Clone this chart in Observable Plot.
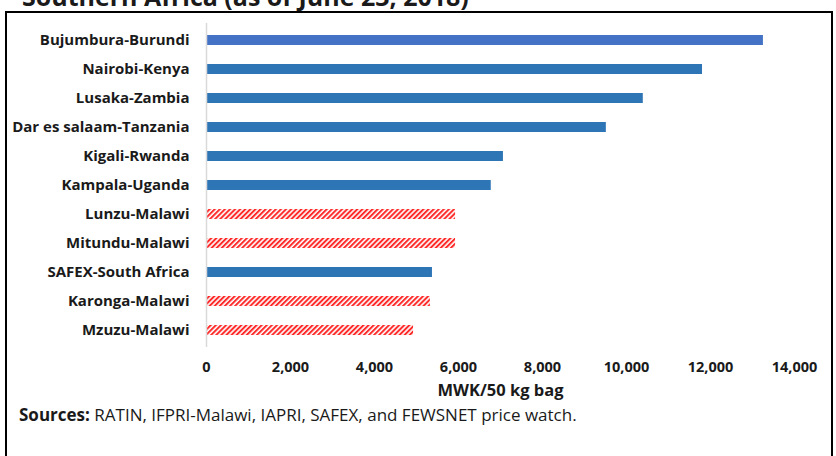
<!DOCTYPE html>
<html><head><meta charset="utf-8">
<script src="https://cdn.jsdelivr.net/npm/d3@7"></script>
<script src="https://cdn.jsdelivr.net/npm/@observablehq/plot@0.6"></script>
<style>
body{margin:0;background:#fff;width:836px;height:456px;overflow:hidden;position:relative;font-family:"Open Sans",Lato,sans-serif;color:#1a1a1a;}
#title{position:absolute;left:22px;top:-16px;font-size:25px;font-weight:bold;white-space:nowrap;line-height:1;}
#frame{position:absolute;left:5px;top:11px;width:828px;height:470px;border:2px solid #000;box-sizing:border-box;}
#chart{position:absolute;left:0;top:0;}
#caption{position:absolute;left:19px;top:405px;font-size:17px;line-height:20px;white-space:nowrap;}
</style></head>
<body>
<div id="title">Southern Africa (as of June 23, 2018)</div>
<div id="frame"></div>
<div id="chart"></div>
<div id="caption"><b>Sources:</b> RATIN, IFPRI-Malawi, IAPRI, SAFEX, and FEWSNET price watch.</div>
<script>
const markets = ["Bujumbura-Burundi","Nairobi-Kenya","Lusaka-Zambia","Dar es salaam-Tanzania","Kigali-Rwanda","Kampala-Uganda","Lunzu-Malawi","Mitundu-Malawi","SAFEX-South Africa","Karonga-Malawi","Mzuzu-Malawi"];
const prices = [13260, 11810, 10400, 9520, 7070, 6780, 5930, 5930, 5380, 5330, 4930];
const origin = ["Regional","Regional","Regional","Regional","Regional","Regional","Malawi","Malawi","Regional","Malawi","Malawi"];
const xTicks = [0, 2000, 4000, 6000, 8000, 10000, 12000, 14000];
const xLabel = "MWK/50 kg bag";

const data = markets.map((m, i) => ({market: m, price: prices[i], origin: origin[i]}));

const chart = Plot.plot({
  width: 836, height: 400,
  marginLeft: 206, marginRight: 42, marginTop: 23, marginBottom: 53,
  style: {fontFamily: "'Open Sans', Lato, sans-serif", fontSize: "14.5px", fontWeight: "bold", color: "#1a1a1a", background: "transparent"},
  x: {domain: [0, 14000], ticks: xTicks, tickFormat: d3.format(","), tickSize: 0, tickPadding: 14,
      label: xLabel, labelAnchor: "center", labelArrow: "none", labelOffset: 48},
  y: {domain: markets, paddingInner: 0.655, paddingOuter: 0.4, tickSize: 0, tickPadding: 17, label: null},
  color: {type: "identity"},
  marks: [
    Plot.barX(data, {x: "price", y: "market",
      fill: d => d.origin === "Malawi" ? "url(#hatch)" : (d.market === markets[0] ? "#4472C4" : "#2E75B6")}),
    Plot.ruleX([0], {stroke: "#d9d9d9", strokeWidth: 1.5})
  ]
});

const ns = "http://www.w3.org/2000/svg";
const defs = document.createElementNS(ns, "defs");
defs.innerHTML = '<pattern id="hatch" patternUnits="userSpaceOnUse" width="3.6" height="3.6" patternTransform="rotate(45)"><rect width="3.6" height="3.6" fill="#fff"/><rect width="2" height="3.6" fill="#ff2a2a"/></pattern>';
chart.insertBefore(defs, chart.firstChild);
const yTicks = chart.querySelector('[aria-label="y-axis tick label"]');
if (yTicks) yTicks.style.fontSize = "15px";
const lab = chart.querySelector('[aria-label="x-axis label"]');
if (lab) lab.style.fontSize = "16.5px";
document.getElementById("chart").appendChild(chart);
</script>
</body></html>
